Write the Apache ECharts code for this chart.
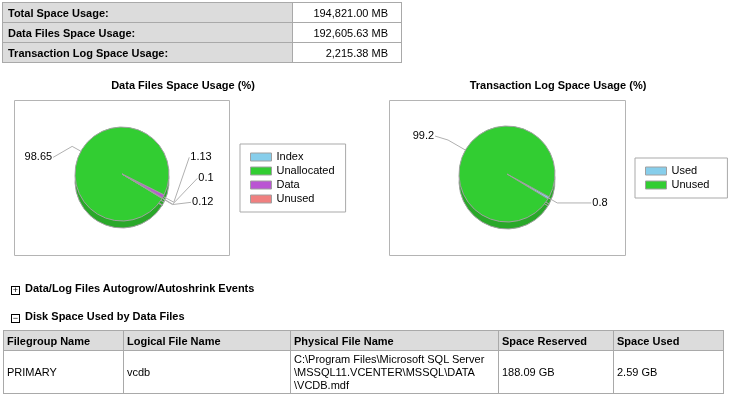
<!DOCTYPE html>
<html>
<head>
<meta charset="utf-8" />
<title>Disk Usage</title>
<script src="https://cdn.jsdelivr.net/npm/echarts@6/dist/echarts.min.js"></script>
<style>
  body { margin:0; width:731px; height:398px; background:#fff; overflow:hidden;
         font-family:"Liberation Sans", Arial, sans-serif; font-size:11px; color:#000; }
  #chart { position:absolute; left:0; top:0; width:731px; height:398px; }
  table { position:absolute; border-collapse:collapse; table-layout:fixed; }
  td, th { border:1px solid #a9a9a9; padding:0 4px; font-size:11px; box-sizing:border-box; }
  #summary td { height:20px; }
  #summary td.lbl { background:#dcdcdc; font-weight:bold; padding-left:5px; }
  #summary td.val { text-align:right; padding-right:13px; }
  #files th { background:#dcdcdc; text-align:left; height:20px; padding-left:3px; }
  #files td { height:43px; padding-left:3px; line-height:13px; }
  .sect { position:absolute; left:11px; font-weight:bold; font-size:11px; }
  .sect span { display:inline-block; box-sizing:border-box; width:9px; height:9px; border:1px solid #000;
               line-height:7px; text-align:center; font-size:9px; font-weight:normal; margin-right:5px; vertical-align:-1px; }
</style>
</head>
<body>
<div id="chart"></div>
<table id="summary" style="left:2px;top:2px;width:400px"></table>
<div class="sect" style="top:282px"><span>+</span>Data/Log Files Autogrow/Autoshrink Events</div>
<div class="sect" style="top:310px"><span>&minus;</span>Disk Space Used by Data Files</div>
<table id="files" style="left:3px;top:330px;width:720px"></table>
<script type="text/javascript">
// summary numbers
var summaryLabels = ['Total Space Usage:', 'Data Files Space Usage:', 'Transaction Log Space Usage:'];
var summaryValues = ['194,821.00 MB', '192,605.63 MB', '2,215.38 MB'];

// pie data (percent)
var dataNames = ['Index', 'Unallocated', 'Data', 'Unused'];
var dataValues = [0.12, 98.65, 1.13, 0.1];
var dataColors = ['#87ceeb', '#32cd32', '#ba55d3', '#f08080'];

var logNames = ['Used', 'Unused'];
var logValues = [0.8, 99.2];
var logColors = ['#87ceeb', '#32cd32'];

// data files table
var fileHeaders = ['Filegroup Name', 'Logical File Name', 'Physical File Name', 'Space Reserved', 'Space Used'];
var fileRow = ['PRIMARY', 'vcdb', 'C:\\Program Files\\Microsoft SQL Server<br>\\MSSQL11.VCENTER\\MSSQL\\DATA<br>\\VCDB.mdf', '188.09 GB', '2.59 GB'];
var fileWidths = [120, 167, 208, 115, 110];

var html = '';
for (var i = 0; i < summaryLabels.length; i++) {
  html += '<tr><td class="lbl"' + (i == 0 ? ' style="width:290px"' : '') + '>' + summaryLabels[i] +
          '</td><td class="val">' + summaryValues[i] + '</td></tr>';
}
document.getElementById('summary').innerHTML = html;

html = '<tr>';
for (var i = 0; i < fileHeaders.length; i++) {
  html += '<th style="width:' + fileWidths[i] + 'px">' + fileHeaders[i] + '</th>';
}
html += '</tr><tr>';
for (var i = 0; i < fileRow.length; i++) html += '<td>' + fileRow[i] + '</td>';
html += '</tr>';
document.getElementById('files').innerHTML = html;

var font = '"Liberation Sans", Arial, sans-serif';
var dataCenter = [122, 174], logCenter = [507, 174];

// label leader lines and nudges, by slice index
var dataLines = [[8, 10], [10, 8], [8, 10], [8, 10]];
var dataNudge = [[8, -24], [-7, 11], [4, -43], [13, -35]];
var logLines = [[10, 30], [20, 5]];
var logNudge = [[0, 0], [-4, -4]];

function items(names, values, colors, lines) {
  return names.map(function (n, i) {
    return { name: n, value: values[i], itemStyle: { color: colors[i] },
             labelLine: { length: lines[i][0], length2: lines[i][1] } };
  });
}
function depth(values) {
  return values.map(function (v) { return { name: '', value: v }; });
}
function legendItems(names, colors) {
  return names.map(function (n, i) {
    return { name: n, itemStyle: { color: colors[i], borderColor: '#a0a0a0', borderWidth: 1 } };
  });
}
// shift a label and re-aim its leader line at it; right-hand lines share one elbow
function nudge(table, center, converge) {
  return function (p) {
    var d = table[p.dataIndex];
    var r = p.labelRect;
    var out = { dx: d[0], dy: d[1] };
    if (p.labelLinePoints) {
      var pts = p.labelLinePoints;
      var right = r.x + r.width / 2 > pts[0][0];
      var ex = right ? r.x + d[0] - 1 : r.x + r.width + d[0] + 1;
      var mid = pts[1];
      if (right && converge) {
        var vx = pts[0][0] - center[0], vy = pts[0][1] - center[1];
        var len = Math.sqrt(vx * vx + vy * vy);
        mid = [pts[0][0] + vx / len * 12, pts[0][1] + vy / len * 12];
      }
      out.labelLinePoints = [pts[0], mid, [ex, r.y + r.height / 2 + d[1]]];
    }
    return out;
  };
}

var pieBase = {
  type: 'pie',
  clockwise: true,
  avoidLabelOverlap: true,
  emphasis: { disabled: true },
  itemStyle: { borderColor: '#a0a0a0', borderWidth: 1 },
  label: { formatter: '{c}', color: '#000', fontSize: 11, fontFamily: font },
  labelLine: { lineStyle: { color: '#b0b0b0', width: 1 } }
};
var depthBase = {
  type: 'pie', clockwise: true, silent: true, z: 1,
  emphasis: { disabled: true },
  label: { show: false }, labelLine: { show: false },
  itemStyle: { color: '#29a829', borderColor: '#a0a0a0', borderWidth: 1 }
};

var legendBase = {
  orient: 'vertical', icon: 'rect', itemWidth: 21, itemHeight: 8, itemGap: 0,
  borderColor: '#a9a9a9', borderWidth: 1, borderRadius: 0, selectedMode: false,
  textStyle: { fontSize: 11, lineHeight: 14, color: '#000', fontFamily: font }
};

var myChart = echarts.init(document.getElementById('chart'));
var option = {
  animation: false,
  graphic: [
    { type: 'rect', shape: { x: 14.5, y: 100.5, width: 215, height: 155 },
      style: { fill: 'none', stroke: '#b4b4b4', lineWidth: 1 } },
    { type: 'rect', shape: { x: 389.5, y: 100.5, width: 236, height: 155 },
      style: { fill: 'none', stroke: '#b4b4b4', lineWidth: 1 } },
    { type: 'text', x: 183, y: 86,
      style: { text: 'Data Files Space Usage (%)', align: 'center', verticalAlign: 'middle',
               font: 'bold 11px ' + font, fill: '#000' } },
    { type: 'text', x: 558, y: 86,
      style: { text: 'Transaction Log Space Usage (%)', align: 'center', verticalAlign: 'middle',
               font: 'bold 11px ' + font, fill: '#000' } }
  ],
  legend: [
    Object.assign({}, legendBase, { left: 240, top: 144, padding: [6, 11, 6, 10],
      data: legendItems(dataNames, dataColors) }),
    Object.assign({}, legendBase, { left: 635, top: 158, padding: [6, 18, 6, 10],
      data: legendItems(logNames, logColors) })
  ],
  series: [
    Object.assign({}, depthBase, { center: [dataCenter[0], dataCenter[1] + 7], radius: 47, startAngle: 329,
      data: depth(dataValues) }),
    Object.assign({}, pieBase, { z: 2, center: dataCenter, radius: 47, startAngle: 329,
      labelLayout: nudge(dataNudge, dataCenter, true),
      data: items(dataNames, dataValues, dataColors, dataLines) }),
    Object.assign({}, depthBase, { center: [logCenter[0], logCenter[1] + 7], radius: 48, startAngle: 331.5,
      data: depth(logValues) }),
    Object.assign({}, pieBase, { z: 2, center: logCenter, radius: 48, startAngle: 331.5,
      labelLayout: nudge(logNudge, logCenter, false),
      data: items(logNames, logValues, logColors, logLines) })
  ]
};
myChart.setOption(option);
</script>
</body>
</html>
